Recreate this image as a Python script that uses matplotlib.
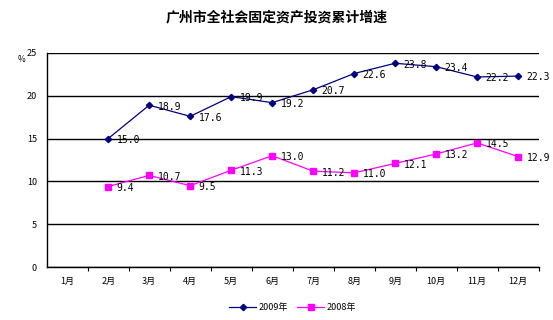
import matplotlib
matplotlib.use("Agg")
from matplotlib import pyplot as plt

plt.rcParams['font.family'] = ['Noto Sans CJK SC', 'DejaVu Sans']

# data
months = ["1月", "2月", "3月", "4月", "5月", "6月",
          "7月", "8月", "9月", "10月", "11月", "12月"]
growth_2009 = [None, 15.0, 18.9, 17.6, 19.9, 19.2, 20.7, 22.6, 23.8, 23.4, 22.2, 22.3]
growth_2008 = [None, 9.4, 10.7, 9.5, 11.3, 13.0, 11.2, 11.0, 12.1, 13.2, 14.5, 12.9]
series_names = ["2009年", "2008年"]
title = "广州市全社会固定资产投资累计增速"

fig = plt.figure(figsize=(5.53, 3.2), dpi=100)
ax = fig.add_axes([0.0844, 0.1656, 0.8896, 0.6688])

x = list(range(len(months)))

def plot_series(values, color, marker, ms, label):
    xs = [i for i, v in zip(x, values) if v is not None]
    ys = [v for v in values if v is not None]
    ax.plot(xs, ys, color=color, lw=0.9, marker=marker, ms=ms,
            markeredgecolor=color, markerfacecolor=color, label=label)
    for xi, yi in zip(xs, ys):
        ax.annotate(f"{yi:.1f}", (xi, yi), xytext=(6, -1), textcoords="offset points",
                    ha="left", va="center", fontsize=7,
                    family=["DejaVu Sans Mono"], color="black")

plot_series(growth_2009, "#000080", "D", 3.2, series_names[0])
plot_series(growth_2008, "#FF00FF", "s", 4.0, series_names[1])

ax.set_xlim(-0.5, len(months) - 0.5)
ax.set_ylim(0, 25)
ax.set_yticks(range(0, 26, 5))
ax.yaxis.grid(True, color="black", lw=1.0)
ax.set_axisbelow(True)

ax.set_xticks(x)
ax.set_xticklabels(months, fontsize=6.5)
ax.tick_params(axis="x", which="major", length=0, pad=7)
ax.set_xticks([i + 0.5 for i in x], minor=True)
ax.tick_params(axis="x", which="minor", length=3, width=0.8, direction="out")
ax.tick_params(axis="y", length=0, labelsize=6.5, pad=7)

for side in ("top", "right"):
    ax.spines[side].set_visible(False)
for side in ("left", "bottom"):
    ax.spines[side].set_linewidth(1.0)

fig.text(0.5, 0.945, title, ha="center", va="center", fontsize=10, fontweight="bold")
fig.text(0.038, 0.815, "%", ha="center", va="center", fontsize=6)

ax.legend(loc="center", bbox_to_anchor=(0.5, -0.19), ncol=2, frameon=False,
          fontsize=6.5, handlelength=3, columnspacing=1.0, handletextpad=0.3)

fig.savefig("out.png", dpi=100)
